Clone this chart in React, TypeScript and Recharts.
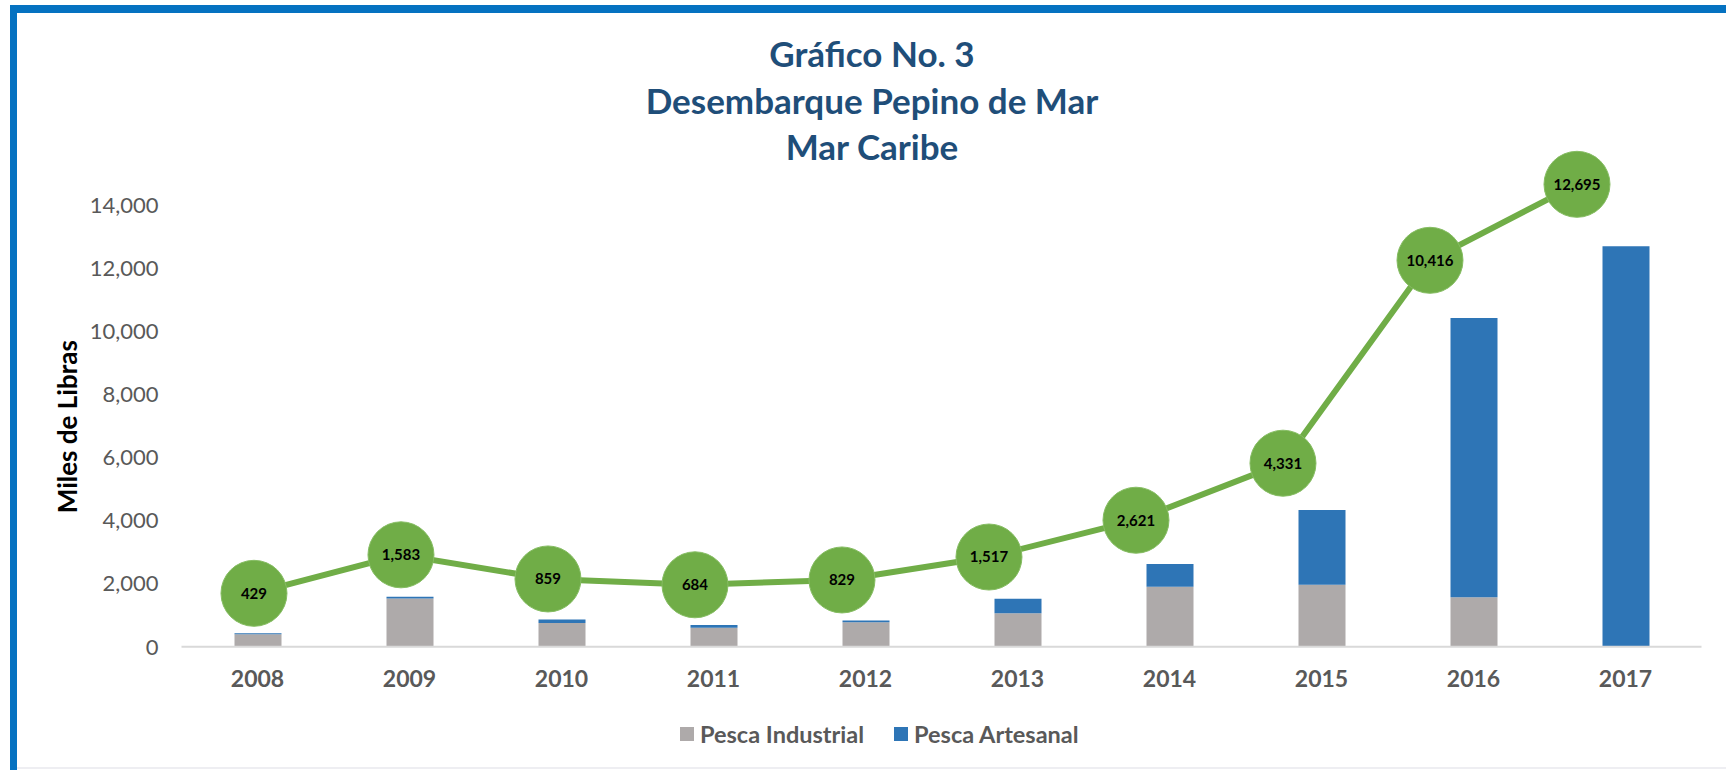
import React from 'react'
import {
  ComposedChart,
  Bar,
  Line,
  XAxis,
  YAxis,
  LabelList,
} from 'recharts'

// años y desembarques (miles de libras)
const years = ['2008', '2009', '2010', '2011', '2012', '2013', '2014', '2015', '2016', '2017']
const pescaIndustrial = [395, 1530, 754, 600, 776, 1060, 1900, 1960, 1570, 0]
const pescaArtesanal = [34, 53, 105, 84, 53, 457, 721, 2371, 8846, 12695]
const totales = [429, 1583, 859, 684, 829, 1517, 2621, 4331, 10416, 12695]
const yTicks = [0, 2000, 4000, 6000, 8000, 10000, 12000, 14000]

const titleLines = ['Gráfico No. 3', 'Desembarque Pepino de Mar', 'Mar Caribe']

const GRAY = '#AEAAAA'
const BLUE = '#2E75B6'
const GREEN = '#70AD47'
const FONT = 'Lato, "Open Sans", sans-serif'

const data = years.map((year, i) => ({
  year,
  idx: i,
  industrial: pescaIndustrial[i],
  artesanal: pescaArtesanal[i],
  total: totales[i],
}))

const fmt = (v: any) => Number(v).toLocaleString('en-US')

function YLabel({ viewBox }: any) {
  const x = viewBox.x - 34.5
  const y = viewBox.y + viewBox.height - 220
  return (
    <text
      x={x}
      y={y}
      transform={`rotate(-90, ${x}, ${y})`}
      textAnchor="middle"
      dominantBaseline="central"
      fontFamily={FONT}
      fontWeight={700}
      fontSize={26}
      fill="#000"
    >
      Miles de Libras
    </text>
  )
}

export default function App() {
  return (
    <div style={{ position: 'absolute', left: 0, top: 0, width: 1726, height: 770, background: '#fff', overflow: 'hidden', fontFamily: FONT }}>
      {/* marco */}
      <div style={{ position: 'absolute', left: 10, top: 5, width: 1716, height: 8, background: '#0572C1', borderTopLeftRadius: 3 }} />
      <div style={{ position: 'absolute', left: 10, top: 5, width: 7, height: 765, background: '#0572C1' }} />
      <div style={{ position: 'absolute', left: 17, top: 767, width: 1709, height: 2, background: '#EEEEF2' }} />

      {titleLines.map((t, i) => (
        <div
          key={t}
          style={{
            position: 'absolute',
            left: 472,
            width: 800,
            top: 33 + i * 46.5,
            textAlign: 'center',
            fontSize: 35,
            fontWeight: 700,
            color: '#1F4E79',
            lineHeight: '40px',
          }}
        >
          {t}
        </div>
      ))}

      <div style={{ position: 'absolute', left: 0, top: 0 }}>
        <ComposedChart
          width={1726}
          height={770}
          data={data}
          margin={{ top: 173.4, right: 24.5, left: 101.5, bottom: 73.3 }}
        >
          <XAxis
            xAxisId="cat"
            dataKey="year"
            height={50}
            axisLine={{ stroke: '#D9D9D9', strokeWidth: 2 }}
            tickLine={false}
            tickSize={0}
            tickMargin={24}
            tick={{ fontSize: 23, fontWeight: 700, fill: '#595959', fontFamily: FONT }}
          />
          <XAxis xAxisId="pos" dataKey="idx" type="number" domain={[-0.493, 9.847]} hide />
          <YAxis
            yAxisId="left"
            width={80}
            domain={[0, 15000]}
            ticks={yTicks}
            axisLine={false}
            tickLine={false}
            tickSize={0}
            tickMargin={23}
            tickFormatter={fmt}
            tick={{ fontSize: 22, fill: '#595959', fontFamily: FONT }}
            label={<YLabel />}
          />
          <YAxis yAxisId="right" orientation="right" domain={[-1172.5, 13022]} hide />
          <Bar xAxisId="cat" yAxisId="left" dataKey="industrial" stackId="a" fill={GRAY} barSize={47} isAnimationActive={false} />
          <Bar xAxisId="cat" yAxisId="left" dataKey="artesanal" stackId="a" fill={BLUE} barSize={47} isAnimationActive={false} />
          <Line
            xAxisId="pos"
            yAxisId="right"
            dataKey="total"
            stroke={GREEN}
            strokeWidth={6}
            dot={{ r: 33, fill: GREEN, stroke: '#86BD63', strokeWidth: 1 }}
            activeDot={false}
            isAnimationActive={false}
          >
            <LabelList
              dataKey="total"
              position="center"
              formatter={fmt}
              style={{ fontSize: 15, fontWeight: 700, fill: '#000', fontFamily: FONT }}
            />
          </Line>
        </ComposedChart>
      </div>

      {/* leyenda */}
      <div style={{ position: 'absolute', left: 680, top: 719, height: 30, display: 'flex', alignItems: 'center', fontSize: 23.5, fontWeight: 700, color: '#595959' }}>
        <span style={{ width: 14, height: 14, background: GRAY, display: 'inline-block', marginRight: 6 }} />
        <span>Pesca Industrial</span>
        <span style={{ width: 14, height: 14, background: BLUE, display: 'inline-block', marginLeft: 30, marginRight: 6 }} />
        <span>Pesca Artesanal</span>
      </div>
    </div>
  )
}
